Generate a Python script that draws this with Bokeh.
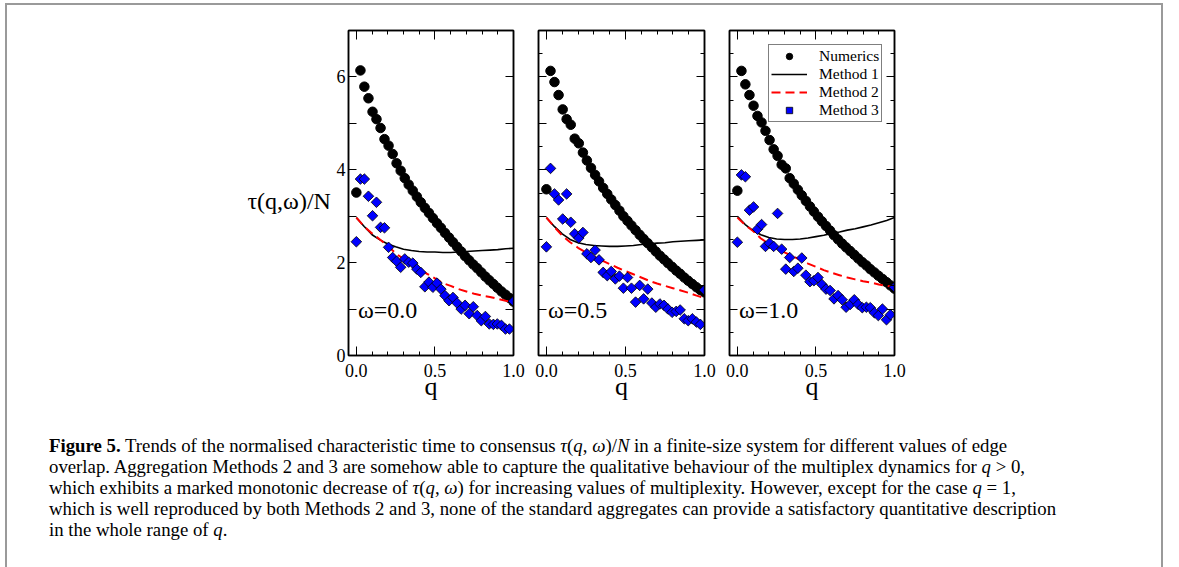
import math
from bokeh.plotting import figure
from bokeh.models import (FixedTicker, LinearAxis, Range1d, Label, Legend, LegendItem,
                          PrintfTickFormatter, Div, Spacer)
from bokeh.layouts import row, column
from bokeh.embed import file_html
from bokeh.resources import INLINE
from bokeh.core.properties import value

# ---------------- data ----------------
q_pts = [0.0, 0.026, 0.051, 0.077, 0.103, 0.128, 0.154, 0.179, 0.205, 0.231,
         0.256, 0.282, 0.308, 0.333, 0.359, 0.385, 0.410, 0.436, 0.462, 0.487,
         0.513, 0.538, 0.564, 0.590, 0.615, 0.641, 0.667, 0.692, 0.718, 0.744,
         0.769, 0.795, 0.821, 0.846, 0.872, 0.897, 0.923, 0.949, 0.974, 1.0]

q_line = [0.0, 0.05, 0.1, 0.15, 0.2, 0.25, 0.3, 0.35, 0.4, 0.45, 0.5,
          0.55, 0.6, 0.65, 0.7, 0.75, 0.8, 0.85, 0.9, 0.95, 1.0]

omega_labels = ["\u03c9=0.0", "\u03c9=0.5", "\u03c9=1.0"]
y_title = "\u03c4(q,\u03c9)/N"

numerics_w00 = [3.51, 6.14, 5.79, 5.54, 5.25, 5.09, 4.90, 4.66, 4.52, 4.34,
                4.14, 3.98, 3.82, 3.68, 3.55, 3.42, 3.30, 3.18, 3.07, 2.96,
                2.85, 2.75, 2.64, 2.54, 2.44, 2.34, 2.24, 2.14, 2.05, 1.96,
                1.88, 1.79, 1.70, 1.62, 1.54, 1.46, 1.38, 1.31, 1.24, 1.16]
numerics_w05 = [3.58, 6.13, 5.89, 5.61, 5.30, 5.09, 4.97, 4.67, 4.57, 4.37,
                4.20, 4.04, 3.89, 3.75, 3.61, 3.48, 3.36, 3.24, 3.12, 3.00,
                2.90, 2.80, 2.70, 2.60, 2.51, 2.42, 2.33, 2.24, 2.15, 2.07,
                1.99, 1.91, 1.83, 1.76, 1.68, 1.61, 1.54, 1.47, 1.41, 1.36]
numerics_w10 = [3.55, 6.13, 5.84, 5.61, 5.38, 5.16, 5.02, 4.84, 4.64, 4.44,
                4.30, 4.11, 4.03, 3.82, 3.70, 3.57, 3.45, 3.33, 3.21, 3.10,
                2.99, 2.89, 2.79, 2.69, 2.59, 2.50, 2.41, 2.33, 2.25, 2.17,
                2.09, 2.01, 1.94, 1.86, 1.79, 1.72, 1.65, 1.58, 1.51, 1.44]

method1_w00 = [2.97, 2.78, 2.60, 2.49, 2.40, 2.34, 2.29, 2.26, 2.24, 2.23, 2.23,
               2.22, 2.22, 2.23, 2.24, 2.25, 2.26, 2.27, 2.28, 2.30, 2.31]
method1_w05 = [2.97, 2.78, 2.62, 2.50, 2.43, 2.39, 2.37, 2.36, 2.35, 2.35, 2.36,
               2.37, 2.39, 2.40, 2.42, 2.43, 2.45, 2.46, 2.47, 2.48, 2.49]
method1_w10 = [3.00, 2.82, 2.69, 2.60, 2.54, 2.51, 2.50, 2.50, 2.51, 2.53, 2.56,
               2.59, 2.63, 2.66, 2.70, 2.73, 2.77, 2.81, 2.86, 2.91, 2.97]

method2_w00 = [2.97, 2.78, 2.63, 2.50, 2.36, 2.20, 2.08, 1.98, 1.86, 1.76, 1.66,
               1.56, 1.50, 1.43, 1.38, 1.33, 1.29, 1.26, 1.22, 1.18, 1.15]
method2_w05 = [2.97, 2.77, 2.58, 2.44, 2.32, 2.22, 2.13, 2.05, 1.97, 1.89, 1.82,
               1.75, 1.68, 1.61, 1.55, 1.50, 1.45, 1.40, 1.35, 1.29, 1.24]
method2_w10 = [2.97, 2.81, 2.68, 2.52, 2.41, 2.31, 2.22, 2.14, 2.06, 1.98, 1.91,
               1.84, 1.78, 1.73, 1.68, 1.64, 1.60, 1.57, 1.53, 1.50, 1.47]

method3_w00 = [2.45, 3.80, 3.80, 3.43, 3.01, 3.30, 2.76, 2.75, 2.33, 2.11,
               2.03, 1.90, 2.08, 2.01, 1.99, 1.86, 1.79, 1.48, 1.58, 1.47,
               1.56, 1.43, 1.29, 1.18, 1.25, 1.13, 1.00, 1.08, 0.90, 1.05,
               0.86, 0.75, 0.84, 0.68, 0.67, 0.68, 0.65, 0.57, 0.57, 1.17]
method3_w05 = [2.34, 4.03, 3.48, 3.35, 2.94, 3.48, 2.87, 2.62, 2.53, 2.65,
               2.19, 2.11, 2.27, 2.06, 1.79, 1.72, 1.81, 1.65, 1.71, 1.45,
               1.68, 1.45, 1.15, 1.51, 1.22, 1.43, 1.13, 1.04, 1.11, 1.08,
               1.00, 0.93, 0.95, 0.98, 0.79, 0.75, 0.79, 0.72, 0.67, 1.41]
method3_w10 = [2.44, 3.89, 3.85, 3.13, 3.20, 2.72, 2.82, 2.35, 2.42, 2.35,
               3.06, 2.29, 1.86, 2.11, 1.81, 1.88, 2.10, 1.73, 1.59, 1.61,
               1.68, 1.53, 1.43, 1.40, 1.22, 1.29, 1.20, 1.04, 1.10, 1.20,
               1.10, 1.03, 1.04, 1.03, 0.92, 0.86, 1.00, 0.77, 0.88, 1.47]

x_major = [0.0, 0.5, 1.0]
x_minor = [0.1, 0.2, 0.3, 0.4, 0.6, 0.7, 0.8, 0.9]
y_major_lab = [0, 2, 4, 6]
y_odd = [1, 3, 5, 7]
y_major = [0, 1, 2, 3, 4, 5, 6, 7]
y_minor = [0.5, 1.5, 2.5, 3.5, 4.5, 5.5, 6.5]

SERIF = "Liberation Serif"
TOP = 25
FRAME_H = 325
BOTTOM = 75
FIG_H = TOP + FRAME_H + BOTTOM
BORDER = "#9a9a9a"


def style_axis(ax, show_labels):
    ax.axis_line_color = "black"
    ax.axis_line_width = 1.5
    ax.major_tick_line_color = "black"
    ax.major_tick_line_width = 1
    ax.minor_tick_line_color = "black"
    ax.minor_tick_line_width = 1
    ax.major_tick_out = 0
    ax.minor_tick_out = 0
    ax.minor_tick_in = 4
    ax.major_label_text_font = SERIF
    if show_labels:
        ax.major_label_text_font_size = "18px"
        ax.major_label_text_color = "black"
    else:
        ax.major_label_text_font_size = "0px"
        ax.major_label_text_color = None
        ax.major_label_text_alpha = 0
        ax.major_label_standoff = 0


def make_panel(width, left, right, idx, nums, m1, m2, m3):
    p = figure(width=width, height=FIG_H, x_range=Range1d(-0.05, 1.0),
               y_range=Range1d(0, 7), output_backend="svg", toolbar_location=None,
               x_axis_type=None, y_axis_type=None,
               min_border_left=left, min_border_right=right,
               min_border_top=TOP, min_border_bottom=BOTTOM)
    p.background_fill_color = "white"
    p.border_fill_color = "white"
    p.outline_line_color = "black"
    p.outline_line_width = 1.5
    p.grid.visible = False

    xt = FixedTicker(ticks=x_major, minor_ticks=x_minor)
    if idx == 0:
        yt = FixedTicker(ticks=y_major_lab, minor_ticks=y_odd)
    else:
        yt = FixedTicker(ticks=y_major, minor_ticks=y_minor)

    xb = LinearAxis(ticker=xt, formatter=PrintfTickFormatter(format="%.1f"))
    style_axis(xb, True)
    xb.major_tick_in = 9
    xb.major_label_standoff = 8
    xb.axis_label = "q"
    xb.axis_label_text_font = SERIF
    xb.axis_label_text_font_style = "normal"
    xb.axis_label_text_font_size = "26px"
    xb.axis_label_standoff = -8
    xb.axis_label_text_color = "black"
    p.add_layout(xb, "below")

    xa = LinearAxis(ticker=xt)
    style_axis(xa, False)
    xa.major_tick_in = 9
    p.add_layout(xa, "above")

    yl = LinearAxis(ticker=yt)
    style_axis(yl, idx == 0)
    yl.major_tick_in = 8
    if idx == 0:
        yl.minor_tick_in = 8
        yl.major_label_standoff = 3
    p.add_layout(yl, "left")

    yr = LinearAxis(ticker=yt)
    style_axis(yr, False)
    yr.major_tick_in = 8
    if idx == 0:
        yr.minor_tick_in = 8
    p.add_layout(yr, "right")

    r_num = p.scatter(q_pts, nums, marker="circle", size=9.5, fill_color="black",
                      line_color="black")
    r_m1 = p.line(q_line, m1, line_color="black", line_width=1.6)
    r_m2 = p.line(q_line, m2, line_color="#ff0000", line_width=2, line_dash="9 5")
    r_m3 = p.scatter(q_pts, m3, marker="square", angle=math.pi / 4, size=7.5,
                     fill_color="#0000ff", line_color="black", line_width=0.8)

    p.add_layout(Label(x=0.01, y=0.97, text=omega_labels[idx], text_font=SERIF,
                       text_font_size="24px", text_baseline="middle",
                       text_color="black"))
    return p, (r_num, r_m1, r_m2, r_m3)


# y-axis title lives in its own narrow figure to the left of panel 1
p0 = figure(width=325, height=FIG_H, x_range=Range1d(0, 1), y_range=Range1d(0, 7),
            output_backend="svg", toolbar_location=None, x_axis_type=None,
            y_axis_type=None, min_border_left=0, min_border_right=0,
            min_border_top=TOP, min_border_bottom=BOTTOM)
p0.outline_line_color = None
p0.grid.visible = False
p0.text(x=[0.995], y=[3.33], text=[y_title], text_font=value(SERIF),
        text_font_size="24px", text_align="right", text_baseline="middle",
        text_color="black")

pA, _ = make_panel(193, 16, 12, 0, numerics_w00, method1_w00, method2_w00, method3_w00)
pB, _ = make_panel(191, 13, 12, 1, numerics_w05, method1_w05, method2_w05, method3_w05)
pC, rC = make_panel(445, 13, 267, 2, numerics_w10, method1_w10, method2_w10, method3_w10)

legend = Legend(items=[LegendItem(label="Numerics", renderers=[rC[0]]),
                       LegendItem(label="Method 1", renderers=[rC[1]]),
                       LegendItem(label="Method 2", renderers=[rC[2]]),
                       LegendItem(label="Method 3", renderers=[rC[3]])],
                location=(39, 233))
legend.label_text_font = SERIF
legend.label_text_font_size = "15.5px"
legend.label_text_line_height = 1.0
legend.label_text_color = "black"
legend.label_height = 16
legend.glyph_height = 16
legend.glyph_width = 36
legend.label_standoff = 12
legend.spacing = 0
legend.padding = 2
legend.margin = 0
legend.border_line_color = "black"
legend.border_line_width = 1
legend.background_fill_color = "white"
legend.background_fill_alpha = 1
pC.add_layout(legend, "center")

caption_html = (
    '<div style="font-family:\'Liberation Serif\',serif;font-size:18.8px;line-height:21px;'
    'color:#000;white-space:nowrap;padding:5px 0 0 42px;">'
    '<b>Figure 5.</b> Trends of the normalised characteristic time to consensus '
    '<i>\u03c4</i>(<i>q</i>, <i>\u03c9</i>)/<i>N</i> in a finite-size system for different values of edge<br>'
    'overlap. Aggregation Methods 2 and 3 are somehow able to capture the qualitative behaviour '
    'of the multiplex dynamics for <i>q</i> &gt; 0,<br>'
    'which exhibits a marked monotonic decrease of <i>\u03c4</i>(<i>q</i>, <i>\u03c9</i>) for increasing '
    'values of multiplexity. However, except for the case <i>q</i> = 1,<br>'
    'which is well reproduced by both Methods 2 and 3, none of the standard aggregates can provide '
    'a satisfactory quantitative description<br>'
    'in the whole range of <i>q</i>.'
    '</div>'
)
CONTENT_W = 325 + 193 + 191 + 445
CAP_H = 137
caption = Div(text=caption_html, width=CONTENT_W, height=CAP_H, margin=0)

side_h = FIG_H + CAP_H
top_bar = Spacer(width=CONTENT_W + 4, height=2, styles={"background-color": BORDER})
left_bar = Spacer(width=2, height=side_h, styles={"background-color": BORDER})
right_bar = Spacer(width=2, height=side_h, styles={"background-color": BORDER})

framed = column(top_bar,
                row(left_bar, column(row(p0, pA, pB, pC), caption), right_bar))
layout = column(Spacer(width=10, height=3),
                row(Spacer(width=5, height=10), framed))

open("out.html", "w").write(file_html(layout, INLINE))
